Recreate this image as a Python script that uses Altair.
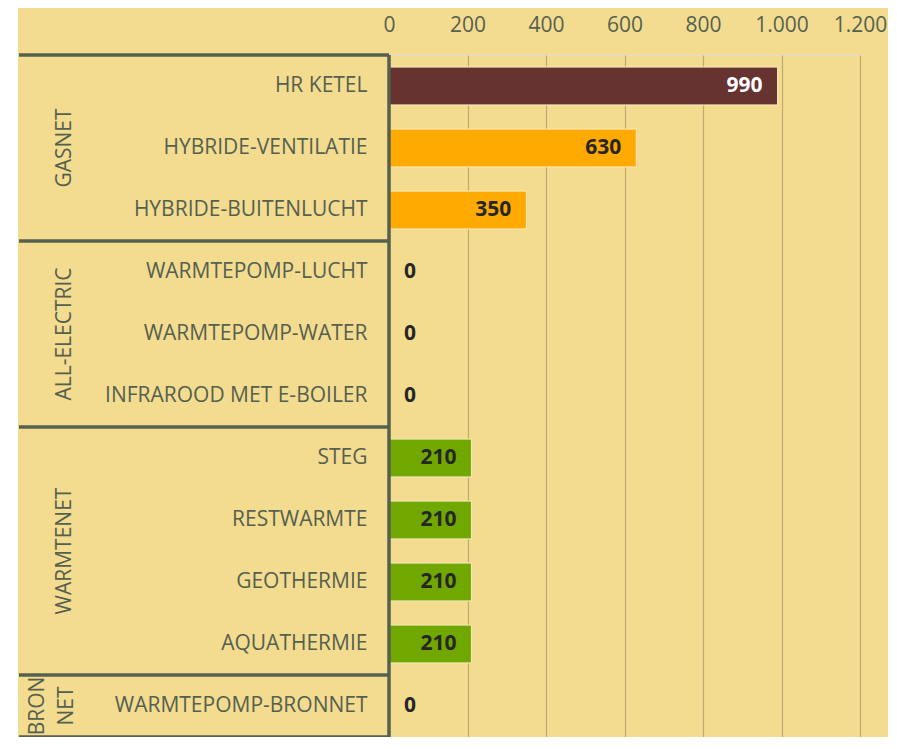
import altair as alt
import pandas as pd
import numpy as np

# ---- data ----
categories = ["HR KETEL", "HYBRIDE-VENTILATIE", "HYBRIDE-BUITENLUCHT",
              "WARMTEPOMP-LUCHT", "WARMTEPOMP-WATER", "INFRAROOD MET E-BOILER",
              "STEG", "RESTWARMTE", "GEOTHERMIE", "AQUATHERMIE",
              "WARMTEPOMP-BRONNET"]
values = [990, 630, 350, 0, 0, 0, 210, 210, 210, 210, 0]
groups = ["GASNET", "ALL-ELECTRIC", "WARMTENET", "BRON NET"]
group_sizes = [3, 3, 4, 1]
x_ticks = [0, 200, 400, 600, 800, 1000, 1200]

# ---- styles ----
bar_colors = ["#663331", "#FFAA00", "#FFAA00", "#FFAA00", "#FFAA00", "#FFAA00",
              "#70A800", "#70A800", "#70A800", "#70A800", "#70A800"]
BG = "#F3DC8F"
INK = "#56604F"
GRID = "#BDAC6E"
FONT = "Open Sans"

df = pd.DataFrame({"cat": categories, "val": values})

ends = np.cumsum(group_sizes)
starts = ends - np.array(group_sizes)
bounds = pd.DataFrame({"b": np.concatenate([[0], ends])})
gdf = pd.DataFrame({"group": groups, "mid": (starts + ends) / 2.0, "size": group_sizes})
frame = pd.DataFrame({"b0": [0], "b1": [int(ends[-1])]})

row_scale = alt.Scale(domain=[0, int(ends[-1])], reverse=True, nice=False, zero=False)
band_scale = alt.Scale(domain=categories, paddingInner=0.39, paddingOuter=0.195)

x_enc = alt.X("val:Q",
              scale=alt.Scale(domain=[0, 1200], nice=False),
              axis=alt.Axis(orient="top", values=x_ticks, title=None,
                            labelExpr="replace(format(datum.value, ','), ',', '.')",
                            grid=True, gridColor=GRID, gridWidth=1.2,
                            domain=False, ticks=False, labelFontSize=21,
                            labelFlush=False, labelOverlap=False,
                            labelColor=INK, labelPadding=20, labelFont=FONT))

y_axis_enc = alt.Y("cat:N", sort=categories, scale=band_scale,
                   axis=alt.Axis(orient="left", title=None, domain=False, ticks=False,
                                 labelPadding=22, labelFontSize=21, labelLimit=500,
                                 labelColor=INK, labelFont=FONT, grid=False))
y_plain = alt.Y("cat:N", sort=categories, scale=band_scale, axis=None)

# white strip at the far left (the rest of the chart background is yellow)
strip = alt.Chart(pd.DataFrame({"a": [0]})).mark_rect(color="white").encode(
    x=alt.value(-381), x2=alt.value(-371), y=alt.value(-47), y2=alt.value(700))

bars = alt.Chart(df).transform_filter("datum.val > 0").mark_bar(
    stroke="#FAEBC0", strokeWidth=1).encode(
    x=x_enc, y=y_axis_enc,
    color=alt.Color("cat:N", scale=alt.Scale(domain=categories, range=bar_colors), legend=None))

txt_nz = alt.Chart(df).transform_filter("datum.val > 0").mark_text(
    align="right", baseline="middle", dx=-15, fontSize=21, fontWeight="bold", font=FONT).encode(
    x=x_enc, y=y_plain, text=alt.Text("val:Q"),
    color=alt.condition(alt.datum.cat == "HR KETEL", alt.value("white"), alt.value("#262626")))

txt_z = alt.Chart(df).transform_filter("datum.val == 0").mark_text(
    align="left", baseline="middle", dx=15, fontSize=21, fontWeight="bold", font=FONT,
    color="#262626").encode(x=x_enc, y=y_plain, text=alt.Text("val:Q"))

hrules = alt.Chart(bounds).mark_rule(color=INK, strokeWidth=3.5).encode(
    y=alt.Y("b:Q", scale=row_scale, axis=None), x=alt.value(-370), x2=alt.value(0))

vrule = alt.Chart(frame).mark_rule(color=INK, strokeWidth=3.5).encode(
    y=alt.Y("b0:Q", scale=row_scale, axis=None), y2="b1:Q", x=alt.value(0))

glab = alt.Chart(gdf).transform_filter("datum.size > 1").mark_text(
    angle=270, align="center", baseline="middle", fontSize=21, font=FONT, color=INK).encode(
    y=alt.Y("mid:Q", scale=row_scale, axis=None), x=alt.value(-324), text="group:N")

glab2 = alt.Chart(gdf).transform_filter("datum.size == 1").transform_calculate(
    lines="split(datum.group, ' ')").mark_text(
    angle=270, align="center", baseline="middle", fontSize=21, font=FONT, color=INK,
    lineHeight=29).encode(
    y=alt.Y("mid:Q", scale=row_scale, axis=None), x=alt.value(-351), text="lines:N")

chart = alt.layer(strip, bars, txt_nz, txt_z, hrules, vrule, glab, glab2).resolve_scale(
    y="independent").properties(
    width=471, height=682,
    autosize=alt.AutoSizeParams(type="none"),
    padding={"left": 381, "top": 47, "right": 28, "bottom": 0},
    background=BG
).configure_view(stroke=None).configure(font=FONT)

chart.save("out.html", embed_options={"renderer": "svg", "actions": False})
